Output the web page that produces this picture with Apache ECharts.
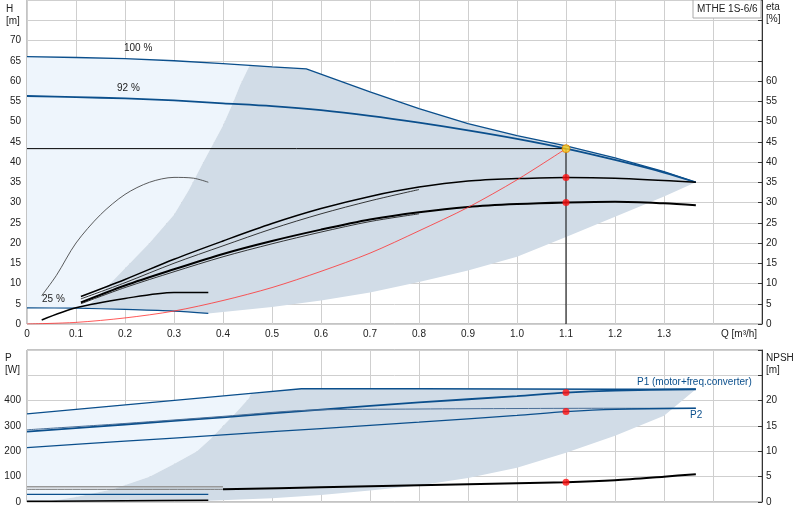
<!DOCTYPE html>
<html><head><meta charset="utf-8">
<script src="https://cdn.jsdelivr.net/npm/echarts@6/dist/echarts.min.js"></script>
<style>html,body{margin:0;padding:0;background:#fff}#c{width:800px;height:520px}</style>
</head><body><div id="c"></div>
<script>
// ---- data (Q in m3/h) ----
const h100 = [[0,66],[0.1,65.8],[0.2,65.5],[0.3,65],[0.4,64.3],[0.5,63.5],[0.57,63],[0.7,57.3],[0.8,53.2],[0.9,49.5],[1.0,46.5],[1.1,44],[1.2,41],[1.3,37.6],[1.365,35]];
const h92 = [[0,56.3],[0.1,56],[0.2,55.7],[0.3,55.2],[0.4,54.5],[0.5,53.8],[0.6,52.8],[0.7,51.4],[0.8,49.7],[0.9,47.8],[1.0,45.7],[1.1,43.3],[1.2,40.5],[1.3,37.4],[1.365,35]];
const h25 = [[0,4],[0.1,3.9],[0.2,3.6],[0.3,3.2],[0.37,2.6]];
const hLower = [[0.37,2.6],[0.5,4.2],[0.6,5.8],[0.7,7.8],[0.8,10.4],[0.9,13.2],[1.0,16.6],[1.1,21.5],[1.2,26.5],[1.3,31.5],[1.365,35]];
const hLeft = [[0.115,3.9],[0.13,5],[0.17,10],[0.21,15],[0.25,20],[0.3,27],[0.33,33],[0.36,40],[0.4,49],[0.42,54.5],[0.435,59],[0.455,64]];
const etaA = [[0.11,6.8],[0.2,11],[0.3,16],[0.4,20.5],[0.5,24.8],[0.6,28.5],[0.7,31.5],[0.8,33.8],[0.9,35.3],[1.0,35.9],[1.1,36.2],[1.2,36],[1.365,35]];
const etaA2 = [[0.11,6.2],[0.2,10.2],[0.3,15],[0.4,19.3],[0.5,23.5],[0.6,27.2],[0.7,30.4],[0.8,33.2]];
const etaB = [[0.11,5.3],[0.2,9.5],[0.3,13.5],[0.4,17.3],[0.5,20.5],[0.6,23.3],[0.7,25.8],[0.8,27.6],[0.9,28.9],[1.0,29.6],[1.1,30],[1.2,30.2],[1.3,29.8],[1.365,29.3]];
const etaB2 = [[0.11,5.0],[0.2,9.0],[0.3,12.9],[0.4,16.6],[0.5,19.8],[0.6,22.7],[0.7,25.3],[0.8,27.2]];
const eta25a = [[0.03,7],[0.06,12],[0.1,20],[0.15,27],[0.2,32],[0.25,35],[0.3,36.2],[0.34,36],[0.37,35]];
const eta25b = [[0.03,1],[0.1,4],[0.2,6.3],[0.3,7.8],[0.37,7.8]];
const sysCurve = [[0,0],[0.1,0.4],[0.2,1.5],[0.3,3.2],[0.4,5.8],[0.5,9],[0.6,13],[0.7,17.5],[0.8,23],[0.9,28.8],[1.0,35.6],[1.1,43.3]];
const dutyQ = 1.1, dutyH = 43.3;
const etaDots = [[1.1,36.2],[1.1,30]];
const p1_100 = [[0,348],[0.457,429],[0.56,447],[0.8,447],[1.0,446],[1.2,445],[1.365,445]];
const p1_92 = [[0,278],[0.2,306],[0.4,334],[0.6,365],[0.8,393],[1.0,418],[1.1,432],[1.2,440],[1.365,445]];
const p2_100 = [[0,285],[0.2,310],[0.4,338],[0.57,362],[0.8,367],[1.0,369],[1.2,370],[1.365,370]];
const p2_92 = [[0,215],[0.2,240],[0.4,265],[0.6,290],[0.8,315],[1.0,342],[1.1,357],[1.2,366],[1.365,370]];
const pLower = [[0.37,5],[0.5,15],[0.6,28],[0.7,45],[0.8,65],[0.9,95],[1.0,135],[1.1,194],[1.2,262],[1.3,340],[1.365,445]];
const pLeft = [[0.05,4],[0.1,20],[0.175,50],[0.25,100],[0.3,150],[0.347,200],[0.375,250],[0.4,300],[0.43,360],[0.453,410],[0.457,429]];
const p25a = [[0,30],[0.37,30]];
const p25b = [[0,3],[0.05,3],[0.2,5],[0.37,7]];
const npshGrey = [[0,3],[0.4,3]];
const npshGrey2 = [[0,2.5],[0.4,2.5]];
const npsh = [[0.4,2.5],[0.6,2.9],[0.8,3.3],[1.0,3.7],[1.1,3.9],[1.2,4.3],[1.3,5.0],[1.365,5.5]];
const pDots = [[1.1,432],[1.1,357]];
const npshDot = [[1.1,3.9]];
const hTicks = [0,5,10,15,20,25,30,35,40,45,50,55,60,65,70];

// ---- build ----
function poly(pts, color, xi, yi){
  return {type:'custom', xAxisIndex:xi, yAxisIndex:yi, silent:true, z:1,
    data:[0], renderItem:(p,api)=>({type:'polygon', shape:{points:pts.map(q=>api.coord(q))}, style:{fill:color}})};
}
function ln(d,color,w,xi,yi,z,sm){return {type:'line',data:d,xAxisIndex:xi,yAxisIndex:yi,showSymbol:false,smooth:sm===undefined?0.3:sm,lineStyle:{color:color,width:w},z:z||3,silent:true};}
function seg(lo,hi,arr){return arr.filter(p=>p[0]>=lo-1e-9&&p[0]<=hi+1e-9);}
const dark='#d1dce7', light='#eef5fc', blue='#0b4f8c';
const darkTop = [[0.455,64]].concat(seg(0.5,1.365,h100));
const darkPoly = darkTop.concat(hLower.slice().reverse(), seg(0.115,0.37,h25).reverse(), hLeft);
const lightPoly = seg(0,0.4,h100).concat([[0.455,64]], hLeft.slice().reverse(), h25.filter(p=>p[0]<0.115).reverse());
const pDarkPoly = seg(0.457,1.365,p1_100).concat(pLower.slice().reverse(), pLeft);
const pLightPoly = [[0,348],[0.457,429]].concat(pLeft.slice().reverse(),[[0,0]]);

const F='Liberation Sans';
const gridCol='#cfcfcf';
const xBase = {type:'value',min:0,max:1.5,interval:0.1,axisLine:{show:false},axisTick:{show:false},splitLine:{lineStyle:{color:gridCol}}};
const option = {
  animation:false,
  grid:[{left:27,right:38,top:0,height:324,show:true,borderColor:'#888',borderWidth:1},
        {left:27,right:38,top:350,height:152,show:true,borderColor:'#888',borderWidth:1}],
  xAxis:[Object.assign({},xBase,{gridIndex:0,axisLabel:{fontSize:10,color:'#222',fontFamily:F,margin:5,formatter:v=>(v>1.35?'':(v===0?'0':v.toFixed(1)))}}),
         Object.assign({},xBase,{gridIndex:1,axisLabel:{show:false}})],
  yAxis:[{type:'value',gridIndex:0,min:0,max:80,interval:5,axisLine:{show:false},axisTick:{show:false},splitLine:{lineStyle:{color:gridCol}},
          axisLabel:{fontSize:10,color:'#222',fontFamily:F,margin:6,formatter:v=>hTicks.includes(v)?String(v):''}},
         {type:'value',gridIndex:0,position:'right',min:0,max:80,interval:5,axisLine:{show:true,lineStyle:{color:'#333'}},axisTick:{show:true,length:4,inside:true},splitLine:{show:false},
          axisLabel:{fontSize:10,color:'#222',fontFamily:F,margin:4,formatter:v=>v<=60?String(v):''}},
         {type:'value',gridIndex:1,min:0,max:600,interval:100,axisLine:{show:false},axisTick:{show:false},splitLine:{lineStyle:{color:gridCol}},
          axisLabel:{fontSize:10,color:'#222',fontFamily:F,margin:6,formatter:v=>v<=400?String(v):''}},
         {type:'value',gridIndex:1,position:'right',min:0,max:30,interval:5,axisLine:{show:true,lineStyle:{color:'#333'}},axisTick:{show:true,length:4,inside:true},splitLine:{show:false},
          axisLabel:{fontSize:10,color:'#222',fontFamily:F,margin:4,formatter:v=>v<=20?String(v):''}}],
  series:[
    poly(lightPoly,light,0,0), poly(darkPoly,dark,0,0),
    poly(pLightPoly,light,1,2), poly(pDarkPoly,dark,1,2),
    ln(h100,blue,1.3,0,0,3,false), ln(h92,blue,1.8,0,0), ln(h25,blue,1.2,0,0),
    ln(etaA,'#000',1.5,0,1), ln(etaA2,'#222',0.9,0,1), ln(etaB,'#000',2,0,1), ln(etaB2,'#222',0.9,0,1),
    ln(eta25a,'#333',0.8,0,1), ln(eta25b,'#000',1.5,0,1),
    ln(sysCurve,'#ff3030',0.8,0,0,4),
    {type:'line',xAxisIndex:0,yAxisIndex:0,data:[[0,dutyH],[dutyQ,dutyH],[dutyQ,0]],showSymbol:false,lineStyle:{color:'#000',width:1},z:4,silent:true},
    {type:'scatter',xAxisIndex:0,yAxisIndex:1,data:etaDots,symbolSize:7,itemStyle:{color:'#ff1010'},z:6},
    {type:'scatter',xAxisIndex:0,yAxisIndex:0,data:[[dutyQ,dutyH]],symbolSize:8,itemStyle:{color:'#ffd21f',borderColor:'#e08000',borderWidth:1},z:7},
    ln(p1_100,blue,1.3,1,2,3,false), ln(p1_92,blue,1.8,1,2), ln(p2_100,'#4a6f98',1,1,2), ln(p2_92,blue,1.3,1,2),
    ln(p25a,blue,1.2,1,2), ln(p25b,'#000',1.5,1,2),
    ln(npshGrey,'#999',1.5,1,3), ln(npshGrey2,'#777',1,1,3), ln(npsh,'#000',2,1,3),
    {type:'scatter',xAxisIndex:1,yAxisIndex:2,data:pDots,symbolSize:7,itemStyle:{color:'#ff1010'},z:6},
    {type:'scatter',xAxisIndex:1,yAxisIndex:3,data:npshDot,symbolSize:7,itemStyle:{color:'#ff1010'},z:6}
  ],
  graphic:[
    {type:'text',left:6,top:3,style:{text:'H\n[m]',font:'10px Liberation Sans',fill:'#222',lineHeight:12}},
    {type:'text',left:766,top:1,style:{text:'eta\n[%]',font:'10px Liberation Sans',fill:'#222',lineHeight:12}},
    {type:'text',left:5,top:352,style:{text:'P\n[W]',font:'10px Liberation Sans',fill:'#222',lineHeight:12}},
    {type:'text',left:766,top:352,style:{text:'NPSH\n[m]',font:'10px Liberation Sans',fill:'#222',lineHeight:12}},
    {type:'text',left:721,top:329,style:{text:'Q [m³/h]',font:'10px Liberation Sans',fill:'#222'}},
    {type:'rect',shape:{x:693,y:0,width:68,height:18},style:{fill:'#fff',stroke:'#aaa',lineWidth:1},z:10},
    {type:'text',left:697,top:4,style:{text:'MTHE 1S-6/6',font:'10px Liberation Sans',fill:'#222'},z:11},
    {type:'text',left:124,top:43,style:{text:'100 %',font:'10px Liberation Sans',fill:'#222'},z:11},
    {type:'text',left:117,top:83,style:{text:'92 %',font:'10px Liberation Sans',fill:'#222'},z:11},
    {type:'text',left:42,top:294,style:{text:'25 %',font:'10px Liberation Sans',fill:'#222'},z:11},
    {type:'text',left:637,top:377,style:{text:'P1 (motor+freq.converter)',font:'10px Liberation Sans',fill:blue},z:11},
    {type:'text',left:690,top:410,style:{text:'P2',font:'10px Liberation Sans',fill:blue},z:11}
  ]
};
echarts.init(document.getElementById('c')).setOption(option);
</script></body></html>
